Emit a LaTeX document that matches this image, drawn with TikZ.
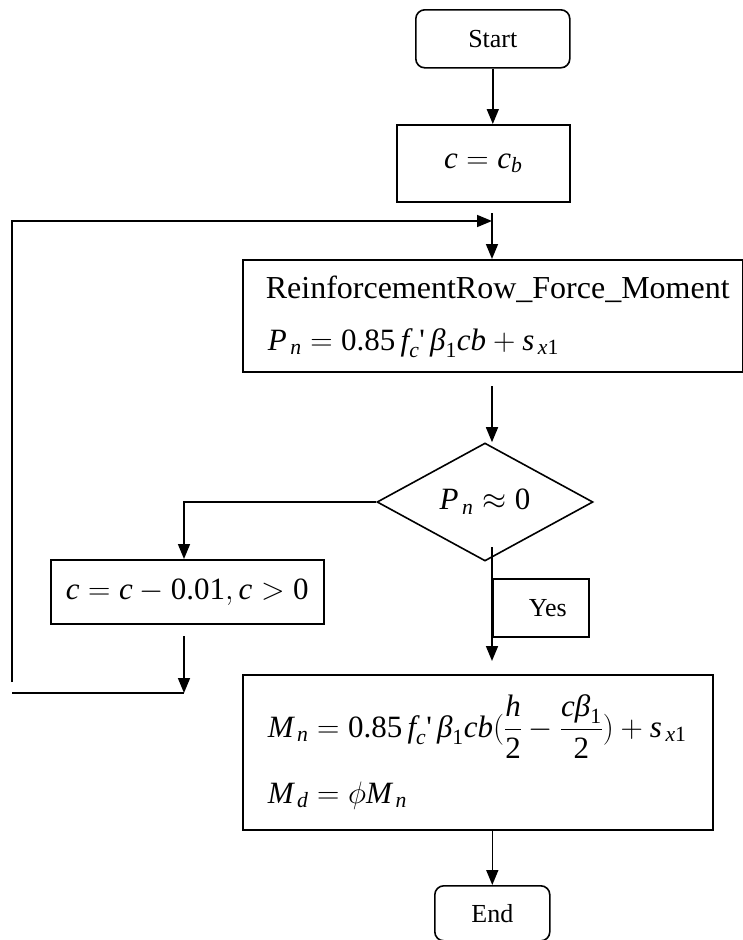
\RequirePackage{fix-cm}
\documentclass[tikz,border=0pt]{standalone}
\usepackage{amsmath}
\usepackage{fontspec}
\setmainfont{Liberation Serif}
\newfontfamily\rawserif[Ligatures=TeXOff]{Liberation Serif}
\usetikzlibrary{arrows.meta,shapes.geometric}
\newcommand{\iv}[1]{\text{\itshape #1}}
\newcommand{\rn}[1]{\text{\upshape #1}}
\newcommand{\prm}{\text{\rawserif\upshape '}}
\newcommand{\mathfnt}{\fontsize{31}{37}\selectfont}
\newcommand{\lblfnt}{\fontsize{26}{31}\selectfont}
\begin{document}
\begin{tikzpicture}[x=1pt,y=-1pt,line width=1.6pt,
  >={Triangle[length=15pt,width=12pt]},
  box/.style={draw,rectangle,inner sep=0pt,anchor=north west},
  term/.style={draw,rectangle,rounded corners=9pt,inner sep=0pt,anchor=north west,font=\lblfnt},
  dec/.style={draw,diamond,aspect=1.83,inner sep=0pt,minimum width=216pt,minimum height=118pt,font=\mathfnt},
  txt/.style={anchor=base west,inner sep=0pt}]
\useasboundingbox (0,0) rectangle (742,940);

% nodes
\node[term,minimum width=154pt,minimum height=58pt] (start) at (415,9) {Start};
\node[box,minimum width=173pt,minimum height=77pt,font=\mathfnt] (cb) at (396,124) {$\iv{c} = \iv{c}_{\iv{b}}$};
\node[box,minimum width=500pt,minimum height=112pt] (rf) at (242,259) {};
\node[txt,font=\fontsize{32}{38}\selectfont] (rft1) at (265,298) {ReinforcementRow\_Force\_Moment};
\node[txt,font=\mathfnt] (rft2) at (267,350) {$\iv{P}_{\,\iv{n}} = \rn{0.85}\,\iv{f}_{\iv{c}}\prm\,\iv{β}_{\rn{1}}\iv{cb} + \iv{s}_{\,\iv{x}\rn{1}}$};
\node[dec] (dc) at (485,502) {$\iv{P}_{\,\iv{n}} \approx \rn{0}$};
\node[box,minimum width=273pt,minimum height=64pt,font=\mathfnt] (cbox) at (50,559) {$\iv{c} = \iv{c} - \rn{0.01}, \iv{c} > \rn{0}$};
\node[box,minimum width=96pt,minimum height=58pt,font=\lblfnt] (yes) at (492,578) {\hspace*{14pt}Yes};
\node[box,minimum width=470pt,minimum height=155pt] (mbox) at (242,674) {};
\node[txt,font=\mathfnt] (mt1) at (267,737) {$\iv{M}_{\,\iv{n}} = \rn{0.85}\,\iv{f}_{\iv{c}}\prm\,\iv{β}_{\rn{1}}\iv{cb}(\dfrac{\iv{h}}{\rn{2}}-\dfrac{\iv{c}\iv{β}_{\rn{1}}}{\rn{2}}) + \iv{s}_{\,\iv{x}\rn{1}}$};
\node[txt,font=\mathfnt] (mt2) at (267,803) {$\iv{M}_{\,\iv{d}} = \phi \iv{M}_{\,\iv{n}}$};
\node[term,minimum width=115pt,minimum height=55pt] (end) at (434,885) {End};

% helper coordinates
\coordinate (lp0) at (12,682);
\coordinate (lp1) at (12,221);
\coordinate (jn) at (492,221);
\coordinate (jt) at (492,213);
\coordinate (d1) at (492,386);
\coordinate (c1) at (184,636);
\coordinate (lpb) at (12,693);
\coordinate (y0) at (492,547);
\coordinate (y1) at (492,661);

% connectors
\draw[->] (start.south) -- (start.south |- cb.north);
\draw[->] (lp0) -- (lp1) -- (jn);
\draw[->] (jt) -- (jt |- rf.north);
\draw[->] (d1) -- (d1 |- dc.north);
\draw[->] (dc.west) -| (c1 |- cbox.north);
\draw[->] (c1) -- (c1 |- lpb);
\draw (lpb) -- (c1 |- lpb);
\draw[->] (y0) -- (y1);
\draw[->] (end.north |- mbox.south) -- (end.north);
\end{tikzpicture}
\end{document}
